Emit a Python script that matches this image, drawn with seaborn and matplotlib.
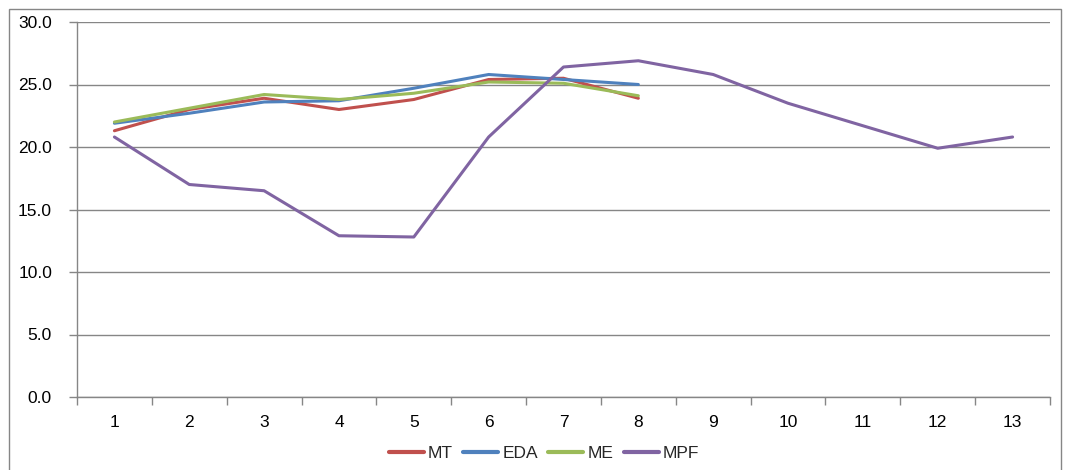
import matplotlib
matplotlib.use("Agg")
import matplotlib.pyplot as plt
import seaborn as sns
import pandas as pd
from matplotlib.patches import Rectangle

categories = list(range(1, 14))
mt = [21.3, 23.0, 23.9, 23.0, 23.8, 25.4, 25.5, 23.9]
eda = [21.9, 22.7, 23.6, 23.7, 24.7, 25.8, 25.4, 25.0]
me = [22.0, 23.1, 24.2, 23.8, 24.3, 25.2, 25.1, 24.1]
mpf = [20.8, 17.0, 16.5, 12.9, 12.8, 20.8, 26.4, 26.9, 25.8, 23.5, 21.7, 19.9, 20.8]
y_ticks = [0, 5, 10, 15, 20, 25, 30]

series = {"MT": mt, "EDA": eda, "ME": me, "MPF": mpf}
palette = {"MT": "#C0504D", "EDA": "#4F81BD", "ME": "#9BBB59", "MPF": "#8064A2"}

rows = []
for name, vals in series.items():
    for c, v in zip(categories, vals):
        rows.append({"x": c, "value": v, "series": name})
df = pd.DataFrame(rows)

sns.set_theme(style="white")
plt.rcParams["font.family"] = ["Liberation Sans", "DejaVu Sans"]

fig = plt.figure(figsize=(10.66, 4.70), dpi=100)
ax = fig.add_axes([77 / 1066, 1 - 397 / 470, (1050 - 77) / 1066, (397 - 22) / 470])

sns.lineplot(data=df, x="x", y="value", hue="series", palette=palette,
             hue_order=["MT", "EDA", "ME", "MPF"], linewidth=2.2, ax=ax,
             legend=True, sort=False)

ax.set_xlim(0.5, 13.5)
ax.set_ylim(0, 30)
ax.set_yticks(y_ticks)
ax.set_yticklabels([f"{t:.1f}" for t in y_ticks], fontsize=12.5)
ax.set_xticks(categories)
ax.set_xticklabels([str(c) for c in categories], fontsize=12.5)
ax.set_xticks([c + 0.5 for c in [0] + categories], minor=True)
ax.tick_params(axis="x", which="major", length=0, pad=13)
ax.tick_params(axis="x", which="minor", length=6, width=1, color="#868686", direction="out")
ax.tick_params(axis="y", length=6, width=1, color="#868686", direction="out", pad=12)
ax.tick_params(axis="both", which="both", bottom=True, left=True)
for lbl in ax.get_yticklabels() + ax.get_xticklabels():
    lbl.set_color("black")

ax.grid(axis="y", color="#868686", linewidth=1)
ax.set_axisbelow(True)
for side in ["top", "right"]:
    ax.spines[side].set_visible(False)
for side in ["left", "bottom"]:
    ax.spines[side].set_color("#868686")
    ax.spines[side].set_linewidth(1)
ax.set_xlabel("")
ax.set_ylabel("")

handles, labels = ax.get_legend_handles_labels()
for h in handles:
    h.set_linewidth(3)
ax.legend(handles, labels, loc="center", bbox_to_anchor=(0.48, -0.15), ncol=4,
          frameon=False, fontsize=12.5, handlelength=2.0, columnspacing=0.6,
          handletextpad=0.25)

fig.patches.append(Rectangle((9 / 1066, -0.01), (1061 - 9) / 1066, 1 - 9 / 470 + 0.01,
                             transform=fig.transFigure, fill=False,
                             edgecolor="#868686", linewidth=1))

fig.savefig("out.png", dpi=100)
